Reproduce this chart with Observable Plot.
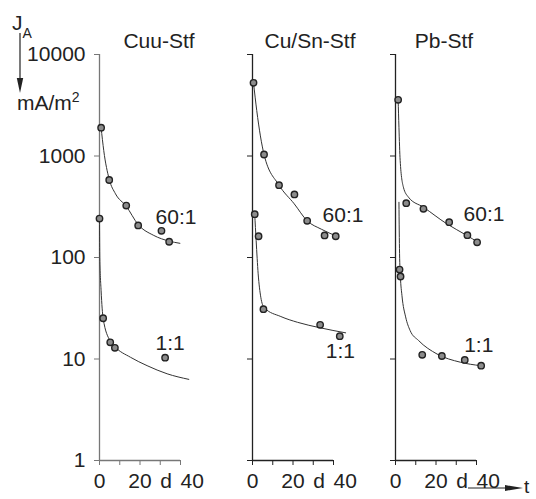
<!DOCTYPE html>
<html><head><meta charset="utf-8">
<script src="https://cdn.jsdelivr.net/npm/d3@7"></script>
<script src="https://cdn.jsdelivr.net/npm/@observablehq/plot@0.6"></script>
<style>
html,body{margin:0;padding:0;background:#fff;}
#chart{position:relative;width:536px;height:499px;overflow:hidden;font-family:"Liberation Sans",Arial,sans-serif;}
#chart svg{position:absolute;left:0;top:0;}
</style></head><body><div id="chart"></div>
<script>
// ---- data ----
const panelNames = ["Cuu-Stf", "Cu/Sn-Stf", "Pb-Stf"];
const yTicks = [1, 10, 100, 1000, 10000];
const xTicks = [0, 10, 20, 30, 40];
const xLabelValues = [0, 20, 30, 40];
const xLabelTexts = ["0", "20", "d", "40"];
const ratioLabels = ["60:1", "1:1"];

// Cuu-Stf
const cuu60T = [0.8, 4.8, 13.2, 19.1, 30.6, 34.4];
const cuu60V = [1900, 580, 325, 207, 183, 143];
const cuu60FitT = [0.8, 2.1, 4.8, 7.9, 13.2, 19.1, 26.8, 34.4, 39.7];
const cuu60FitV = [1900, 1130, 590, 424, 320, 211, 165, 145, 138];
const cuu11T = [0, 1.8, 5.3, 7.6, 32.4];
const cuu11V = [242, 25.2, 14.6, 12.9, 10.3];
const cuu11FitT = [0, 0.15, 0.8, 1.8, 5.3, 7.6, 15.3, 23.5, 33.4, 44.1];
const cuu11FitV = [242, 100, 47, 25.2, 15, 13.2, 10.4, 8.6, 7.15, 6.3];

// Cu/Sn-Stf
const sn60T = [0.5, 5.7, 13.1, 20.7, 27.0, 35.6, 41.1];
const sn60V = [5260, 1035, 516, 418, 230, 165, 162];
const sn60FitT = [0.5, 2.1, 5.7, 13.1, 20.6, 27, 34, 41.6];
const sn60FitV = [5260, 2800, 1035, 516, 338, 230, 190, 162];
const sn11T = [1.1, 3.0, 5.4, 33.4, 43.1];
const sn11V = [267, 162, 31, 21.7, 16.8];
const sn11FitT = [1.1, 1.8, 2.8, 4.1, 5.8, 14, 22.2, 33.4, 46];
const sn11FitV = [267, 147, 69, 40.6, 32, 26.2, 23, 20.3, 18.1];

// Pb-Stf
const pb60T = [1.3, 5.3, 13.8, 26.5, 35.5, 40.3];
const pb60V = [3580, 343, 302, 223, 166, 141];
const pb60FitT = [1.3, 1.7, 2.3, 3.9, 6.4, 13.8, 25.3, 35.2, 40.9];
const pb60FitV = [3580, 1920, 903, 493, 393, 313, 215, 165, 141];
const pb11T = [2.0, 2.5, 13.2, 22.9, 34.2, 42.3];
const pb11V = [76, 65, 11, 10.7, 9.8, 8.6];
const pb11FitT = [1.7, 2.0, 2.4, 3.2, 5, 7.2, 11.4, 20.5, 32, 41.8];
const pb11FitV = [350, 110, 66, 42, 26, 19.1, 15.2, 11.2, 9.3, 8.6];

// ---- layout / styling ----
const zip = (T, V) => T.map((t, i) => ({t, v: V[i]}));
const panels = [
  {name: panelNames[0], left: 99, axis: "#777", yLabels: true,
   p60: zip(cuu60T, cuu60V), f60: zip(cuu60FitT, cuu60FitV),
   p11: zip(cuu11T, cuu11V), f11: zip(cuu11FitT, cuu11FitV),
   lab: [{t: 27.7, v: 250, s: ratioLabels[0]}, {t: 27.7, v: 14.4, s: ratioLabels[1]}]},
  {name: panelNames[1], left: 252, axis: "#222", yLabels: false,
   p60: zip(sn60T, sn60V), f60: zip(sn60FitT, sn60FitV),
   p11: zip(sn11T, sn11V), f11: zip(sn11FitT, sn11FitV),
   lab: [{t: 34.6, v: 259, s: ratioLabels[0]}, {t: 36.2, v: 12, s: ratioLabels[1]}]},
  {name: panelNames[2], left: 395, axis: "#222", yLabels: false,
   p60: zip(pb60T, pb60V), f60: zip(pb60FitT, pb60FitV),
   p11: zip(pb11T, pb11V), f11: zip(pb11FitT, pb11FitV),
   lab: [{t: 33.6, v: 265, s: ratioLabels[0]}, {t: 33.9, v: 13.6, s: ratioLabels[1]}]}
];
const xLabels = xLabelValues.map((x, i) => ({x, s: xLabelTexts[i]}));
const textColor = "#222";
const dotStyle = {r: 3.2, fill: "#8c8c8c", stroke: "#222", strokeWidth: 1.4};
const lineStyle = {curve: "monotone-x", stroke: "#333", strokeWidth: 1};

const chart = document.getElementById("chart");
panels.forEach((p, i) => {
  const svg = Plot.plot({
    width: 536, height: 499,
    marginLeft: p.left, marginRight: 536 - p.left - 81,
    marginTop: 54, marginBottom: 39,
    style: {background: "transparent", fontFamily: "Liberation Sans, Arial, sans-serif", fontSize: "21px", overflow: "visible"},
    x: {domain: [0, 40]},
    y: {type: "log", domain: [1, 10000]},
    marks: [
      Plot.ruleX([0], {y1: 1, y2: 10000, stroke: p.axis, strokeWidth: 1.3}),
      Plot.ruleY([1], {x1: 0, x2: 40, stroke: p.axis, strokeWidth: 1.3}),
      Plot.axisY({ticks: yTicks, tickSize: 5, tickPadding: 9, stroke: p.axis, fill: textColor,
        tickFormat: p.yLabels ? (d => String(d)) : (() => ""), label: null}),
      Plot.axisX({ticks: xTicks, tickSize: 5, stroke: p.axis, tickFormat: () => "", label: null}),
      Plot.text(xLabels.filter(d => d.x <= 20), {x: "x", y: () => 1, text: "s", dy: 21, fill: textColor}),
      Plot.text(xLabels.filter(d => d.x > 20), {x: "x", y: () => 1, text: "s", dy: 21, dx: 0, textAnchor: "start", fill: textColor}),
      Plot.line(p.f60, {x: "t", y: "v", ...lineStyle}),
      Plot.line(p.f11, {x: "t", y: "v", ...lineStyle}),
      Plot.dot(p.p60, {x: "t", y: "v", ...dotStyle}),
      Plot.dot(p.p11, {x: "t", y: "v", ...dotStyle}),
      Plot.text(p.lab, {x: "t", y: "v", text: "s", textAnchor: "start", fill: textColor})
    ]
  });
  chart.appendChild(svg);
});

// annotations (titles, axis captions, arrows)
const ov = d3.select(chart).append("svg")
  .attr("width", 536).attr("height", 499)
  .style("font-family", "Liberation Sans, Arial, sans-serif")
  .style("font-size", "21px").style("pointer-events", "none");
const titleX = [159, 310, 444];
panels.forEach((p, i) => {
  ov.append("text").attr("x", titleX[i]).attr("y", 48).attr("text-anchor", "middle")
    .attr("fill", textColor).text(p.name);
});
const ja = ov.append("text").attr("x", 12).attr("y", 30).attr("fill", textColor);
ja.append("tspan").text("J");
ja.append("tspan").attr("font-size", "14px").attr("dy", 8).text("A");
ov.append("line").attr("x1", 20).attr("x2", 20).attr("y1", 33).attr("y2", 82)
  .attr("stroke", textColor).attr("stroke-width", 1.2);
ov.append("path").attr("d", "M16.8,78 L23.2,78 L20,93 Z").attr("fill", textColor);
const mu = ov.append("text").attr("x", 17).attr("y", 110).attr("fill", textColor);
mu.append("tspan").text("mA/m");
mu.append("tspan").attr("font-size", "14px").attr("dy", -8).text("2");
ov.append("line").attr("x1", 468).attr("x2", 508).attr("y1", 488).attr("y2", 488)
  .attr("stroke", textColor).attr("stroke-width", 1.2);
ov.append("path").attr("d", "M505,485.1 L523,488 L505,490.9 Z").attr("fill", textColor);
ov.append("text").attr("x", 524).attr("y", 493).attr("font-size", "19px").attr("fill", textColor).text("t");
</script></body></html>
